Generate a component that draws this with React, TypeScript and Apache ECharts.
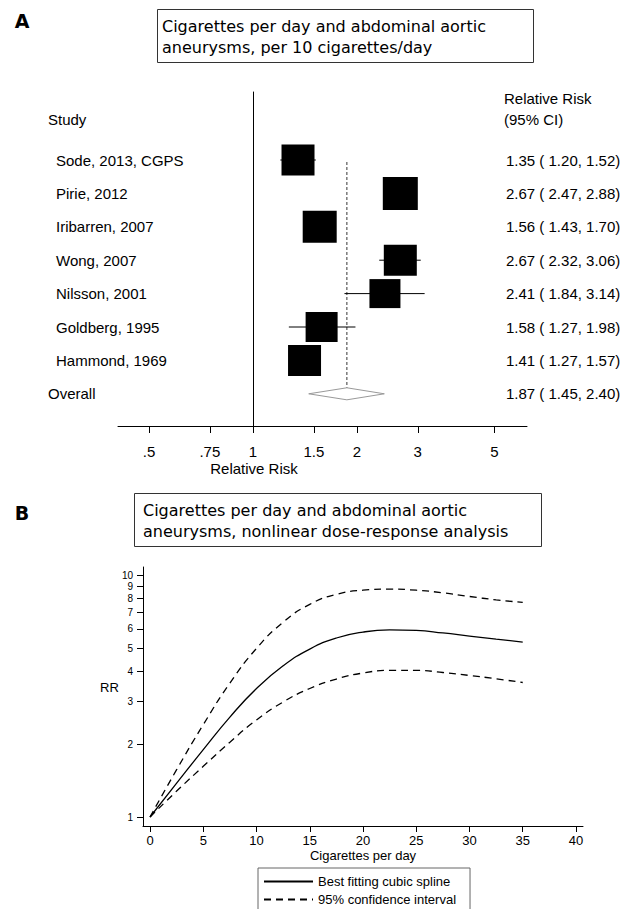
import React, { useEffect, useRef } from "react";
import * as echarts from "echarts";

// ---------- Panel A data ----------
const studies = [
  "Sode, 2013, CGPS",
  "Pirie, 2012",
  "Iribarren, 2007",
  "Wong, 2007",
  "Nilsson, 2001",
  "Goldberg, 1995",
  "Hammond, 1969",
];
const studyRR = [1.35, 2.67, 1.56, 2.67, 2.41, 1.58, 1.41];
const studyLo = [1.2, 2.47, 1.43, 2.32, 1.84, 1.27, 1.27];
const studyHi = [1.52, 2.88, 1.7, 3.06, 3.14, 1.98, 1.57];
const studyWeight = [33, 35, 34, 33, 31, 32, 33];
const overallLabel = "Overall";
const overallRR = 1.87;
const overallLo = 1.45;
const overallHi = 2.4;
const forestTicks = [0.5, 0.75, 1, 1.5, 2, 3, 5];
const forestTickLabels = [".5", ".75", "1", "1.5", "2", "3", "5"];

// ---------- Panel B data ----------
const cigs = [0, 2.5, 5, 7.5, 10, 12.5, 15, 17.5, 20, 22.5, 25, 27.5, 30, 32.5, 35];
const splineRR = [1, 1.38, 1.9, 2.59, 3.4, 4.22, 4.95, 5.5, 5.82, 5.94, 5.91, 5.77, 5.6, 5.44, 5.29];
const upperRR = [1, 1.57, 2.41, 3.58, 4.98, 6.39, 7.58, 8.33, 8.67, 8.76, 8.67, 8.46, 8.17, 7.91, 7.72];
const lowerRR = [1, 1.28, 1.62, 2.04, 2.52, 2.99, 3.4, 3.72, 3.94, 4.04, 4.04, 3.96, 3.85, 3.73, 3.6];
const cigTicks = [0, 5, 10, 15, 20, 25, 30, 35, 40];
const rrTicks = [1, 2, 3, 4, 5, 6, 7, 8, 9, 10];

const SANS = '"Liberation Sans", Arial, sans-serif';
const TITLE = '"DejaVu Sans", Verdana, sans-serif';
const ln = Math.log;
const fmt = (v: number) => v.toFixed(2);

export default function App() {
  const ref = useRef<HTMLDivElement>(null);
  useEffect(() => {
    if (!ref.current) return;
    const chart = echarts.init(ref.current, undefined, { renderer: "svg" });

    const rowTexts = studies.map((s, i) => ({
      label: s,
      value: `${fmt(studyRR[i])} ( ${fmt(studyLo[i])}, ${fmt(studyHi[i])})`,
      x: 56,
    }));
    rowTexts.push({
      label: overallLabel,
      value: `${fmt(overallRR)} ( ${fmt(overallLo)}, ${fmt(overallHi)})`,
      x: 48,
    });
    const overallRow = studies.length;

    const curve = (name: string, vals: number[], dashed: boolean) => ({
      name,
      type: "line",
      xAxisIndex: 1,
      yAxisIndex: 1,
      symbol: "none",
      smooth: 0.5,
      data: cigs.map((c, i) => [c, ln(vals[i])]),
      lineStyle: { color: "#000", width: 1.3, type: dashed ? [7, 5] : "solid" },
      itemStyle: { color: "#000" },
    });

    const option: any = {
      animation: false,
      backgroundColor: "#fff",
      grid: [
        { left: 118, top: 92, width: 409, height: 334 },
        { left: 143, top: 567, width: 440, height: 259 },
      ],
      xAxis: [
        {
          type: "value",
          gridIndex: 0,
          min: -0.9,
          max: 1.8267,
          splitLine: { show: false },
          axisLine: { onZero: false, lineStyle: { color: "#000", width: 1 } },
          axisTick: {
            customValues: forestTicks.map(ln),
            length: 7,
            lineStyle: { color: "#000" },
          },
          axisLabel: {
            customValues: forestTicks.map(ln),
            margin: 18,
            fontSize: 15,
            color: "#000",
            fontFamily: SANS,
            formatter: (v: number) => {
              let best = 0;
              forestTicks.forEach((t, k) => {
                if (Math.abs(ln(t) - v) < Math.abs(ln(forestTicks[best]) - v)) best = k;
              });
              return forestTickLabels[best];
            },
          },
        },
        {
          type: "value",
          gridIndex: 1,
          min: -0.66,
          max: 40.66,
          splitLine: { show: false },
          axisLine: { onZero: false, lineStyle: { color: "#000", width: 1 } },
          axisTick: { customValues: cigTicks, length: 6, lineStyle: { color: "#000" } },
          axisLabel: {
            customValues: cigTicks,
            margin: 8,
            fontSize: 13,
            color: "#000",
            fontFamily: SANS,
          },
        },
      ],
      yAxis: [
        {
          type: "value",
          gridIndex: 0,
          inverse: true,
          min: -2.036,
          max: 7.964,
          splitLine: { show: false },
          axisLine: { show: true, onZero: true, lineStyle: { color: "#000", width: 1 } },
          axisTick: { show: false },
          axisLabel: { show: false },
        },
        {
          type: "value",
          gridIndex: 1,
          min: -0.0857,
          max: 2.381,
          splitLine: { show: false },
          axisLine: { show: true, onZero: false, lineStyle: { color: "#000", width: 1 } },
          axisTick: {
            show: true,
            customValues: rrTicks.map(ln),
            length: 6,
            lineStyle: { color: "#000" },
          },
          axisLabel: {
            customValues: rrTicks.map(ln),
            margin: 10,
            fontSize: 10,
            color: "#000",
            fontFamily: SANS,
            formatter: (v: number) => String(Math.round(Math.exp(v))),
          },
        },
      ],
      legend: {
        data: ["Best fitting cubic spline", "95% confidence interval"],
        orient: "vertical",
        left: 258,
        top: 868,
        height: 40,
        padding: [7, 14, 8, 5],
        itemWidth: 49,
        itemHeight: 14,
        itemGap: 5,
        borderColor: "#666",
        borderWidth: 1,
        itemStyle: { opacity: 0 },
        lineStyle: { width: 2 },
        textStyle: { fontSize: 13, color: "#000", fontFamily: SANS },
      },
      series: [
        // CI whiskers
        {
          type: "custom",
          xAxisIndex: 0,
          yAxisIndex: 0,
          silent: true,
          data: studies.map((_, i) => [ln(studyLo[i]), ln(studyHi[i]), i]),
          renderItem: (params: any, api: any) => {
            const a = api.coord([api.value(0), api.value(2)]);
            const b = api.coord([api.value(1), api.value(2)]);
            return {
              type: "line",
              shape: { x1: a[0], y1: a[1], x2: b[0], y2: b[1] },
              style: { stroke: "#000", lineWidth: 1 },
            };
          },
        },
        // Study boxes
        {
          type: "scatter",
          xAxisIndex: 0,
          yAxisIndex: 0,
          silent: true,
          symbol: "rect",
          symbolSize: (_v: any, p: any) => [studyWeight[p.dataIndex], studyWeight[p.dataIndex] - 2],
          itemStyle: { color: "#000", opacity: 1 },
          data: studies.map((_, i) => [ln(studyRR[i]), i]),
        },
        // Overall dashed line
        {
          type: "custom",
          xAxisIndex: 0,
          yAxisIndex: 0,
          silent: true,
          data: [[ln(overallRR), overallRow]],
          renderItem: (params: any, api: any) => {
            const a = api.coord([api.value(0), 0.06]);
            const b = api.coord([api.value(0), api.value(1) + 0.13]);
            return {
              type: "line",
              shape: { x1: a[0], y1: a[1], x2: b[0], y2: b[1] },
              style: { stroke: "#000", lineWidth: 0.8, lineDash: [3, 2] },
            };
          },
        },
        // Overall diamond
        {
          type: "custom",
          xAxisIndex: 0,
          yAxisIndex: 0,
          silent: true,
          data: [[ln(overallLo), ln(overallRR), ln(overallHi), overallRow]],
          renderItem: (params: any, api: any) => {
            const r = api.value(3);
            const p1 = api.coord([api.value(0), r]);
            const p2 = api.coord([api.value(1), r - 0.18]);
            const p3 = api.coord([api.value(2), r]);
            const p4 = api.coord([api.value(1), r + 0.18]);
            return {
              type: "polygon",
              shape: { points: [p1, p2, p3, p4] },
              style: { fill: "#fff", stroke: "#999", lineWidth: 1 },
            };
          },
        },
        // Row texts
        {
          type: "custom",
          xAxisIndex: 0,
          yAxisIndex: 0,
          silent: true,
          data: rowTexts.map((_, i) => [0, i]),
          renderItem: (params: any, api: any) => {
            const t = rowTexts[params.dataIndex];
            const y = api.coord([0, api.value(1)])[1];
            return {
              type: "group",
              children: [
                {
                  type: "text",
                  x: t.x,
                  y,
                  style: { text: t.label, fill: "#000", font: `15px ${SANS}`, align: "left", verticalAlign: "middle" },
                },
                {
                  type: "text",
                  x: 506,
                  y,
                  style: { text: t.value, fill: "#000", font: `15px ${SANS}`, align: "left", verticalAlign: "middle" },
                },
              ],
            };
          },
        },
        // Panel B curves
        curve("Best fitting cubic spline", splineRR, false),
        curve("95% confidence interval", upperRR, true),
        curve("95% confidence interval", lowerRR, true),
      ],
      graphic: [
        { type: "text", x: 22, y: 21, style: { text: "A", font: `bold 19px ${TITLE}`, fill: "#000", align: "center", verticalAlign: "middle" } },
        { type: "rect", shape: { x: 157.5, y: 9.5, width: 376, height: 53 }, style: { fill: "none", stroke: "#333", lineWidth: 1 } },
        {
          type: "text",
          x: 162,
          y: 37,
          style: {
            text: "Cigarettes per day and abdominal aortic\naneurysms, per 10 cigarettes/day",
            font: `16px ${TITLE}`,
            lineHeight: 21,
            fill: "#000",
            align: "left",
            verticalAlign: "middle",
          },
        },
        { type: "text", x: 504, y: 98, style: { text: "Relative Risk", font: `15px ${SANS}`, fill: "#000", align: "left", verticalAlign: "middle" } },
        { type: "text", x: 504, y: 119, style: { text: "(95% CI)", font: `15px ${SANS}`, fill: "#000", align: "left", verticalAlign: "middle" } },
        { type: "text", x: 48, y: 119, style: { text: "Study", font: `15px ${SANS}`, fill: "#000", align: "left", verticalAlign: "middle" } },
        { type: "text", x: 254, y: 468, style: { text: "Relative Risk", font: `15px ${SANS}`, fill: "#000", align: "center", verticalAlign: "middle" } },

        { type: "text", x: 22, y: 513, style: { text: "B", font: `bold 19px ${TITLE}`, fill: "#000", align: "center", verticalAlign: "middle" } },
        { type: "rect", shape: { x: 134.5, y: 493.5, width: 407, height: 53 }, style: { fill: "none", stroke: "#333", lineWidth: 1 } },
        {
          type: "text",
          x: 143,
          y: 520.5,
          style: {
            text: "Cigarettes per day and abdominal aortic\naneurysms, nonlinear dose-response analysis",
            font: `16px ${TITLE}`,
            lineHeight: 21,
            fill: "#000",
            align: "left",
            verticalAlign: "middle",
          },
        },
        { type: "text", x: 100, y: 687, style: { text: "RR", font: `13px ${SANS}`, fill: "#000", align: "left", verticalAlign: "middle" } },
        { type: "text", x: 363, y: 855, style: { text: "Cigarettes per day", font: `13px ${SANS}`, fill: "#000", align: "center", verticalAlign: "middle" } },
      ],
    };

    chart.setOption(option);
    return () => chart.dispose();
  }, []);

  return (
    <div
      ref={ref}
      style={{ position: "fixed", left: 0, top: 0, width: 623, height: 909, background: "#fff" }}
    />
  );
}
